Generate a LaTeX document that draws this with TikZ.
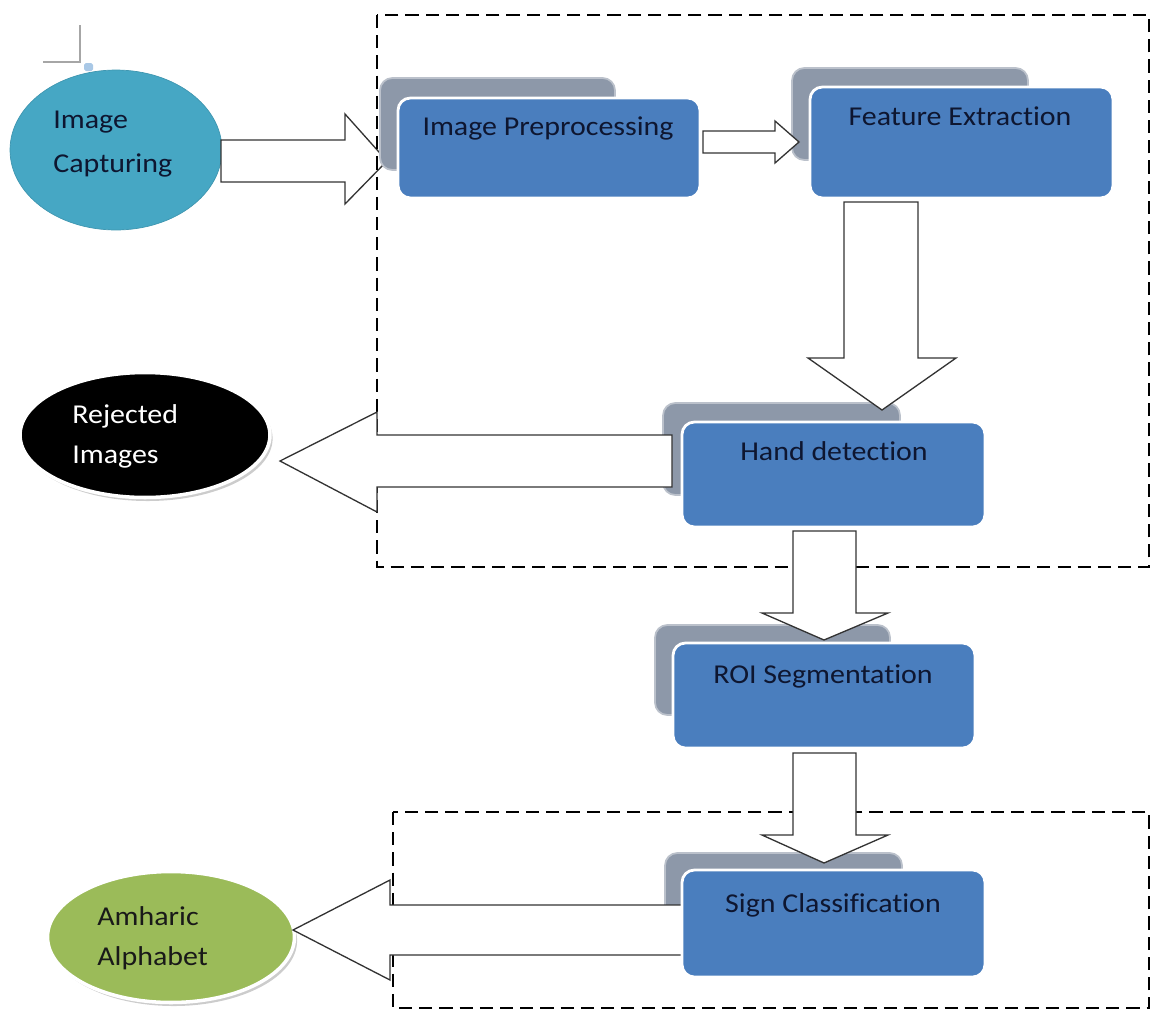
\documentclass[tikz,border=0pt]{standalone}
\usepackage{fontspec}
\setmainfont{Carlito}[FakeStretch=1.1, Ligatures={NoCommon}]
\usetikzlibrary{shapes.geometric,shadows}
\definecolor{boxblue}{HTML}{4A7EBE}
\definecolor{shgray}{HTML}{8D98A9}
\definecolor{capteal}{HTML}{46A7C4}
\definecolor{amgreen}{HTML}{9BBB59}
\definecolor{txtnavy}{HTML}{0E1630}
\definecolor{markblue}{HTML}{A9C8E6}
\begin{document}
\begin{tikzpicture}[x=0.02cm,y=-0.02cm,
  box/.style={rectangle, rounded corners=7pt, fill=boxblue, draw=white, line width=1.6pt},
  backbox/.style={rectangle, rounded corners=7pt, fill=shgray, draw=shgray!60!white, line width=1pt},
  boxtext/.style={anchor=base, font=\fontsize{15.5}{18}\selectfont, text=txtnavy, inner sep=0pt},
  ovaltext/.style={anchor=base west, font=\fontsize{15.5}{18}\selectfont, inner sep=0pt},
  oval/.style={ellipse, inner sep=0pt},
  blockarrow/.style={draw=black!80, fill=white, line width=0.75pt, line join=miter},
  groupbox/.style={draw=black, line width=1pt, dash pattern=on 7.5pt off 4pt},
]
\useasboundingbox (0,0) rectangle (1156,1015);

% corner mark
\draw[black!35, line width=0.6pt] (80,25) -- (80,62) -- (43,62);
\fill[markblue, rounded corners=1pt] (84,63) rectangle (93,71);

% ovals
\node[oval, fill=capteal, draw=capteal!90!black, line width=0.4pt,
      minimum width=4.24cm, minimum height=3.2cm] (cap) at (116,150) {};
\node[oval, fill=black, draw=white, line width=2pt,
      drop shadow={shadow xshift=1.5pt, shadow yshift=-2pt, fill=black!40, opacity=0.5},
      minimum width=5.0cm, minimum height=2.5cm] (rej) at (145,435) {};
\node[oval, fill=amgreen, draw=white, line width=2pt,
      drop shadow={shadow xshift=1.5pt, shadow yshift=-2pt, fill=black!40, opacity=0.5},
      minimum width=4.94cm, minimum height=2.62cm] (amh) at (171,937) {};

\node[ovaltext, text=txtnavy] (capt1) at (53,128) {Image};
\node[ovaltext, text=txtnavy] (capt2) at (53,172) {Capturing};
\node[ovaltext, text=white] (rejt1) at (72,423) {Rejected};
\node[ovaltext, text=white] (rejt2) at (72,463) {Images};
\node[ovaltext, text=black!90] (amht1) at (97,925) {Amharic};
\node[ovaltext, text=black!90] (amht2) at (97,965) {Alphabet};

% arrow: capturing -> preprocessing
\draw[blockarrow] (221,140) -- (345,140) -- (345,114) -- (387,161)
  -- (345,204) -- (345,182) -- (221,182) -- cycle;

% dashed group boxes
\draw[groupbox] (377,15) rectangle (1149,567);
\draw[groupbox] (393,812) rectangle (1149,1008);

% back panels
\node[backbox, minimum width=4.70cm, minimum height=1.84cm] (pres) at (497.5,124) {};
\node[backbox, minimum width=4.72cm, minimum height=1.84cm] (feats) at (910,114) {};
\node[backbox, minimum width=4.74cm, minimum height=1.84cm] (hands) at (781.5,449) {};
\node[backbox, minimum width=4.70cm, minimum height=1.80cm] (rois) at (772.5,670) {};
\node[backbox, minimum width=4.74cm, minimum height=1.84cm] (signs) at (783.5,899) {};

% block arrows
\draw[blockarrow] (703,131) -- (775,131) -- (775,121) -- (799,142)
  -- (775,163) -- (775,153) -- (703,153) -- cycle;
\draw[blockarrow] (844,202) -- (918,202) -- (918,358) -- (956,358)
  -- (882,410) -- (808,358) -- (844,358) -- cycle;
\draw[blockarrow] (672,435) -- (377,435) -- (377,412) -- (280,461)
  -- (377,512) -- (377,487) -- (672,487) -- cycle;
\draw[blockarrow] (793,531) -- (856,531) -- (856,613) -- (888,613)
  -- (824,640) -- (762,613) -- (793,613) -- cycle;
\draw[blockarrow] (793,753) -- (856,753) -- (856,835) -- (888,835)
  -- (824,863) -- (762,835) -- (793,835) -- cycle;
\draw[blockarrow] (682,905) -- (390,905) -- (390,880) -- (293,930)
  -- (390,980) -- (390,955) -- (682,955) -- cycle;

% main boxes
\node[box, minimum width=6.04cm, minimum height=2.00cm] (pre) at (549,148) {};
\node[box, minimum width=6.06cm, minimum height=2.22cm] (feat) at (961.5,142.5) {};
\node[box, minimum width=6.06cm, minimum height=2.10cm] (hand) at (833.5,474.5) {};
\node[box, minimum width=6.04cm, minimum height=2.10cm] (roi) at (824,695.5) {};
\node[box, minimum width=6.06cm, minimum height=2.14cm] (sign) at (833.5,923.5) {};

\node[boxtext] (pret) at (548,135) {Image Preprocessing};
\node[boxtext] (featt) at (960,125) {Feature Extraction};
\node[boxtext] (handt) at (834,460) {Hand detection};
\node[boxtext] (roit) at (823,683) {ROI Segmentation};
\node[boxtext] (signt) at (833,912) {Sign Classification};
\end{tikzpicture}
\end{document}
